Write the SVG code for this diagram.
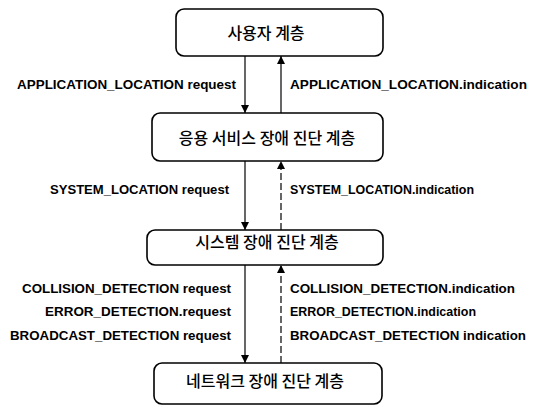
<svg xmlns="http://www.w3.org/2000/svg" width="537" height="406" viewBox="0 0 537 406">
<defs>
<style>
.box{fill:#fff;stroke:#000;stroke-width:1.6}
.kt{font-family:"Noto Sans CJK KR","Liberation Sans",sans-serif;font-size:16px;font-weight:500;fill:#000;text-anchor:middle}
.lb{font-family:"Liberation Sans",Arial,sans-serif;font-size:12.5px;font-weight:bold;fill:#000}
.r{text-anchor:end}
.ln{stroke:#000;stroke-width:1.2;fill:none}
.dash{stroke-dasharray:7 3}
</style>
<marker id="ah" viewBox="0 0 10 10" refX="10" refY="5" markerWidth="8" markerHeight="8" markerUnits="userSpaceOnUse" orient="auto">
<path d="M0,0 L10,5 L0,10 Z" fill="#000"/>
</marker>
</defs>
<rect width="537" height="406" fill="#fff"/>
<g id="connectors">
<line class="ln" x1="245" y1="56" x2="245" y2="113" marker-end="url(#ah)"/>
<line class="ln" x1="281" y1="113" x2="281" y2="56" marker-end="url(#ah)"/>
<line class="ln" x1="245" y1="161" x2="245" y2="230" marker-end="url(#ah)"/>
<line class="ln dash" x1="281" y1="230" x2="281" y2="161" marker-end="url(#ah)"/>
<line class="ln" x1="245" y1="265" x2="245" y2="363" marker-end="url(#ah)"/>
<line class="ln dash" x1="281" y1="363" x2="281" y2="265" marker-end="url(#ah)"/>
</g>
<g id="labels">
<text class="lb r" x="236" y="89" textLength="219" lengthAdjust="spacingAndGlyphs">APPLICATION_LOCATION request</text>
<text class="lb" x="290" y="89" textLength="237" lengthAdjust="spacingAndGlyphs">APPLICATION_LOCATION.indication</text>
<text class="lb r" x="229" y="194" textLength="179" lengthAdjust="spacingAndGlyphs">SYSTEM_LOCATION request</text>
<text class="lb" x="290" y="194" textLength="184" lengthAdjust="spacingAndGlyphs">SYSTEM_LOCATION.indication</text>
<text class="lb r" x="231" y="293" textLength="209" lengthAdjust="spacingAndGlyphs">COLLISION_DETECTION request</text>
<text class="lb r" x="231" y="316" textLength="186" lengthAdjust="spacingAndGlyphs">ERROR_DETECTION.request</text>
<text class="lb r" x="231" y="340" textLength="221" lengthAdjust="spacingAndGlyphs">BROADCAST_DETECTION request</text>
<text class="lb" x="290" y="293" textLength="225" lengthAdjust="spacingAndGlyphs">COLLISION_DETECTION.indication</text>
<text class="lb" x="290" y="316" textLength="186" lengthAdjust="spacingAndGlyphs">ERROR_DETECTION.indication</text>
<text class="lb" x="290" y="340" textLength="236" lengthAdjust="spacingAndGlyphs">BROADCAST_DETECTION indication</text>
</g>
<g id="user-layer">
<rect class="box" x="176" y="9" width="207" height="47" rx="8"/>
<text class="kt" x="266" y="39">사용자 계층</text>
</g>
<g id="app-layer">
<rect class="box" x="152" y="113" width="231" height="48" rx="8"/>
<text class="kt" x="267" y="144">응용 서비스 장애 진단 계층</text>
</g>
<g id="system-layer">
<rect class="box" x="147" y="230" width="236" height="35" rx="8"/>
<text class="kt" x="267" y="248">시스템 장애 진단 계층</text>
</g>
<g id="network-layer">
<rect class="box" x="154" y="363" width="228" height="41" rx="8"/>
<text class="kt" x="265" y="387">네트워크 장애 진단 계층</text>
</g>
</svg>
